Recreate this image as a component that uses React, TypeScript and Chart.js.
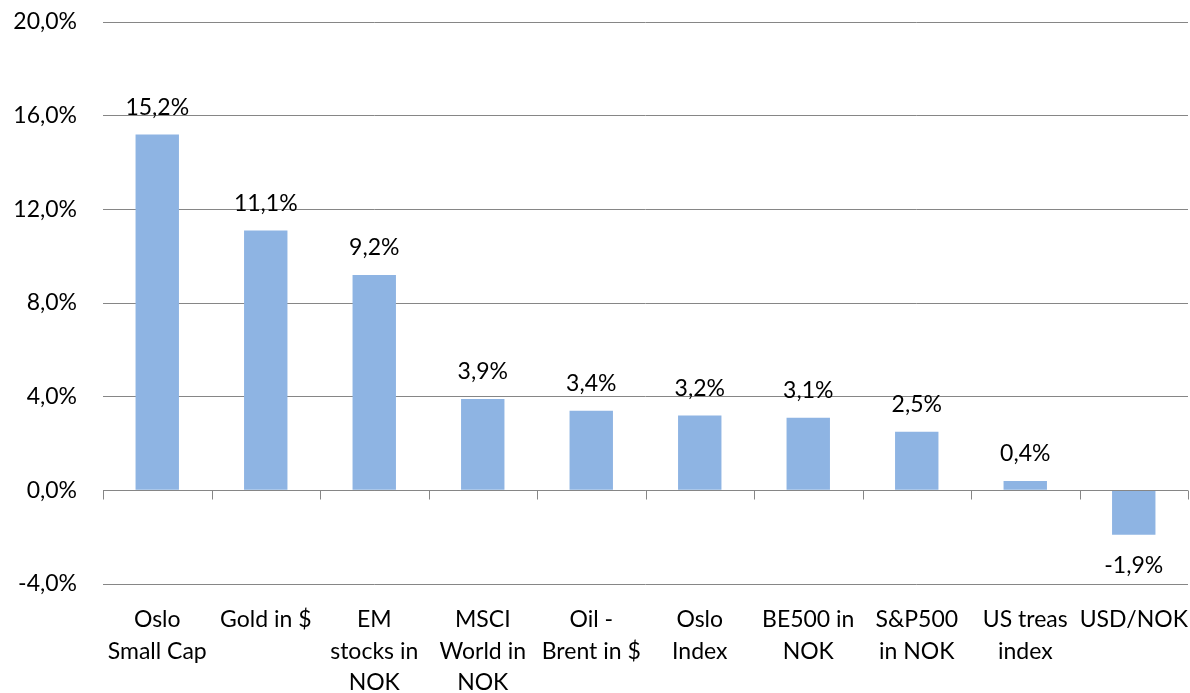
import React, { useEffect, useRef } from "react";
import { Chart, registerables } from "chart.js";

Chart.register(...registerables);

const categories: string[][] = [
  ["Oslo", "Small Cap"],
  ["Gold in $"],
  ["EM", "stocks in", "NOK"],
  ["MSCI", "World in", "NOK"],
  ["Oil -", "Brent in $"],
  ["Oslo", "Index"],
  ["BE500 in", "NOK"],
  ["S&P500", "in NOK"],
  ["US treas", "index"],
  ["USD/NOK"],
];
const values: number[] = [15.2, 11.1, 9.2, 3.9, 3.4, 3.2, 3.1, 2.5, 0.4, -1.9];
const yMin = -4;
const yMax = 20;
const yStep = 4;

const FONT = "Lato";
const FS = 23;
const fmt = (v: number) => v.toFixed(1).replace(".", ",") + "%";

const dataLabels = {
  id: "dataLabels",
  afterDatasetsDraw(chart: any) {
    const ctx = chart.ctx;
    const meta = chart.getDatasetMeta(0);
    ctx.save();
    ctx.font = `${FS}px ${FONT}`;
    ctx.fillStyle = "#000";
    ctx.textAlign = "center";
    ctx.textBaseline = "middle";
    meta.data.forEach((el: any, i: number) => {
      const v = values[i];
      const y = v >= 0 ? el.y - 27 : el.y + 31;
      ctx.fillText(fmt(v), el.x, y);
    });
    ctx.restore();
  },
};

const zeroTicksAndLabels = {
  id: "zeroTicksAndLabels",
  afterDatasetsDraw(chart: any) {
    const ctx = chart.ctx;
    const xs = chart.scales.x;
    const ys = chart.scales.y;
    const y0 = Math.round(ys.getPixelForValue(0)) + 0.5;
    const n = categories.length;
    const w = (xs.right - xs.left) / n;
    ctx.save();
    ctx.strokeStyle = "#868686";
    ctx.lineWidth = 1;
    ctx.beginPath();
    ctx.moveTo(xs.left, y0);
    ctx.lineTo(xs.right, y0);
    for (let i = 0; i <= n; i++) {
      const x = Math.round(xs.left + i * w) + 0.5;
      ctx.moveTo(x, y0);
      ctx.lineTo(x, y0 + 9);
    }
    ctx.stroke();
    ctx.font = `${FS}px ${FONT}`;
    ctx.fillStyle = "#000";
    ctx.textAlign = "center";
    ctx.textBaseline = "middle";
    const top = ys.getPixelForValue(yMin) + 36;
    categories.forEach((lines, i) => {
      const x = xs.getPixelForValue(i);
      lines.forEach((t, j) => ctx.fillText(t, x, top + j * 31.5));
    });
    ctx.restore();
  },
};

export default function App() {
  const ref = useRef<HTMLCanvasElement>(null);
  useEffect(() => {
    document.body.style.margin = "0";
    const chart = new Chart(ref.current!, {
      type: "bar",
      data: {
        labels: categories.map((c) => c.join(" ")),
        datasets: [
          {
            data: values,
            backgroundColor: "#8EB4E3",
            borderWidth: 0,
            barPercentage: 0.4,
            categoryPercentage: 1,
          },
        ],
      },
      options: {
        animation: false,
        responsive: false,
        maintainAspectRatio: false,
        layout: { padding: { top: 22, right: 2, left: 0, bottom: 0 } },
        plugins: { legend: { display: false }, tooltip: { enabled: false } },
        scales: {
          x: {
            grid: { display: false },
            border: { display: false },
            ticks: { display: false },
            afterFit: (s: any) => {
              s.height = 109;
            },
          },
          y: {
            min: yMin,
            max: yMax,
            grid: { color: "#868686", drawTicks: false },
            border: { display: false },
            ticks: {
              stepSize: yStep,
              color: "#000",
              font: { family: FONT, size: FS },
              padding: 26,
              callback: (v: any) => fmt(Number(v)),
            },
            afterFit: (s: any) => {
              s.width = 103;
              s.paddingTop = 0;
              s.paddingBottom = 0;
            },
          },
        },
      },
      plugins: [dataLabels, zeroTicksAndLabels],
    });
    return () => chart.destroy();
  }, []);
  return <canvas ref={ref} width={1190} height={693} style={{ display: "block" }} />;
}
